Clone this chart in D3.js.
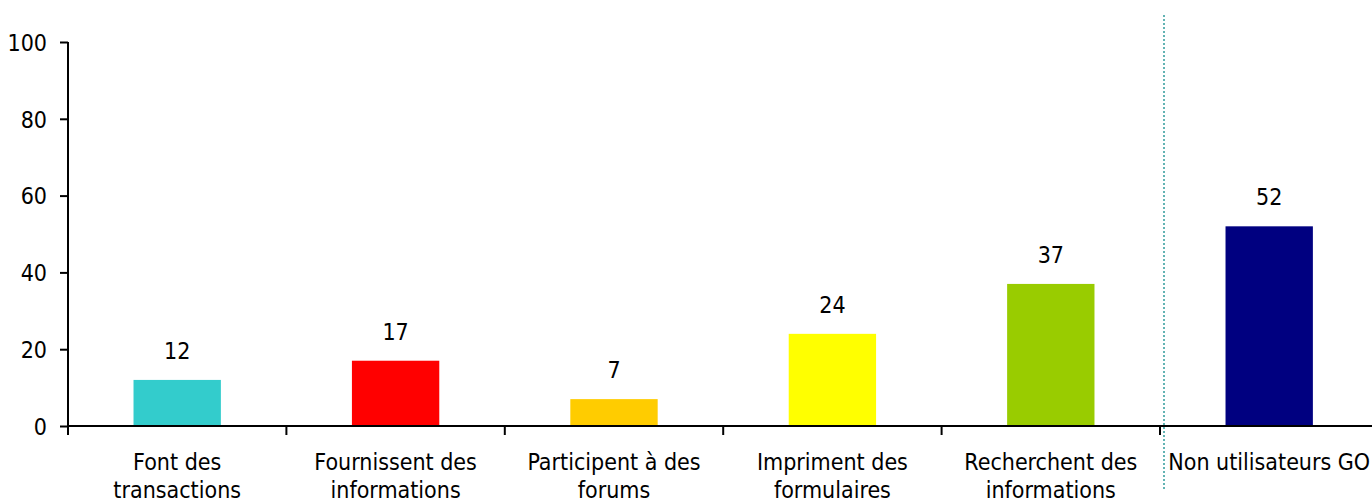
<!DOCTYPE html>
<html>
<head>
<meta charset="utf-8">
<script src="https://cdn.jsdelivr.net/npm/d3@7"></script>
<style>
  body { margin: 0; background: #fff; }
  svg text { font-family: "DejaVu Sans Condensed", "DejaVu Sans", sans-serif; font-size: 23px; fill: #000; }
</style>
</head>
<body>
<script>
var width = 1372,
    height = 501;

// data
var categories = [
    ['Font des', 'transactions'],
    ['Fournissent des', 'informations'],
    ['Participent à des', 'forums'],
    ['Impriment des', 'formulaires'],
    ['Recherchent des', 'informations'],
    ['Non utilisateurs GO']
];
var values = [12, 17, 7, 24, 37, 52];
var colors = ['#33cccc', '#ff0000', '#ffcc00', '#ffff00', '#99cc00', '#000080'];
var yTicks = [0, 20, 40, 60, 80, 100];

var plotLeft = 68, plotBottom = 426, plotTop = 42;
var step = (1160 - plotLeft) / 5;

var svg = d3.select('body')
    .append('svg')
    .attr('width', width)
    .attr('height', height);

var x = d3.scaleBand()
    .domain(d3.range(values.length))
    .range([plotLeft, plotLeft + step * values.length])
    .paddingInner(0.6)
    .paddingOuter(0.3);

var y = d3.scaleLinear()
    .domain([0, 100])
    .range([plotBottom, plotTop]);

// bars
svg.append('g')
    .selectAll('rect')
    .data(values).enter()
    .append('rect')
    .attr('x', (d, i) => x(i))
    .attr('y', d => y(d))
    .attr('width', x.bandwidth())
    .attr('height', d => y(0) - y(d))
    .attr('fill', (d, i) => colors[i]);

// value labels
svg.append('g')
    .selectAll('text')
    .data(values).enter()
    .append('text')
    .attr('x', (d, i) => x(i) + x.bandwidth() / 2)
    .attr('y', d => y(d) - 21)
    .attr('text-anchor', 'middle')
    .text(d => d);

// y axis
var yAxis = svg.append('g')
    .attr('transform', 'translate(' + plotLeft + ',0)')
    .call(d3.axisLeft(y).tickValues(yTicks).tickSize(8).tickPadding(13));
yAxis.select('.domain').attr('stroke-width', 2).attr('d', 'M0,' + plotTop + 'V' + (plotBottom + 8));
yAxis.selectAll('.tick line').attr('stroke-width', 2);
yAxis.selectAll('.tick text').attr('dy', '0.36em');
yAxis.attr('font-size', null).attr('font-family', null);

// x axis line and ticks at band boundaries
var bounds = d3.range(values.length).map(i => x(i) - x.step() * x.paddingOuter());
svg.append('line')
    .attr('x1', plotLeft).attr('x2', width)
    .attr('y1', plotBottom).attr('y2', plotBottom)
    .attr('stroke', '#000').attr('stroke-width', 2);
svg.append('g')
    .selectAll('line')
    .data(bounds).enter()
    .append('line')
    .attr('x1', d => d).attr('x2', d => d)
    .attr('y1', plotBottom).attr('y2', plotBottom + 9)
    .attr('stroke', '#000').attr('stroke-width', 2);

// category labels
var cat = svg.append('g')
    .selectAll('text')
    .data(categories).enter()
    .append('text')
    .attr('text-anchor', 'middle')
    .attr('transform', (d, i) => 'translate(' + (x(i) + x.bandwidth() / 2) + ',470)');
cat.selectAll('tspan')
    .data(d => d).enter()
    .append('tspan')
    .attr('x', 0)
    .attr('y', (d, i) => i * 28)
    .text(d => d);

// dotted separator
svg.append('line')
    .attr('x1', 1164).attr('x2', 1164)
    .attr('y1', 15).attr('y2', 491)
    .attr('stroke', '#2f9a9a')
    .attr('stroke-width', 1.5)
    .attr('stroke-dasharray', '2,2');
</script>
</body>
</html>
